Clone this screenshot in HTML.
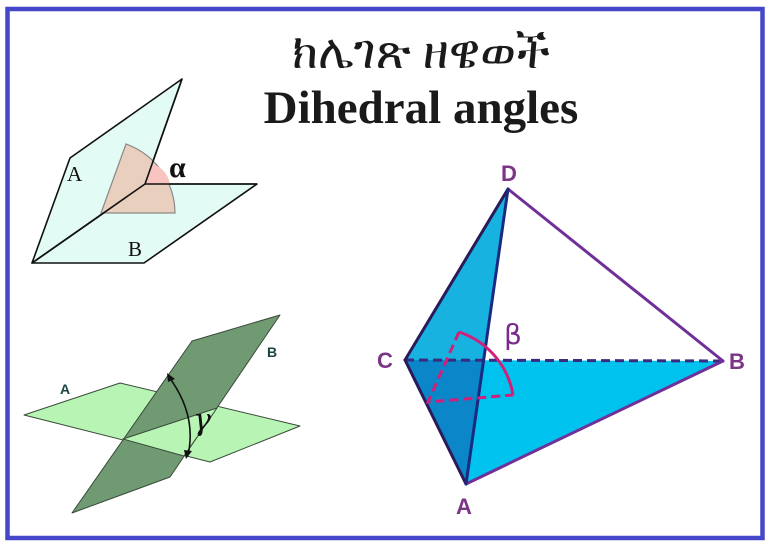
<!DOCTYPE html>
<html><head><meta charset="utf-8"><style>
html,body{margin:0;padding:0;background:#fff;}
svg{display:block;}
</style></head><body>
<svg width="773" height="550" viewBox="0 0 773 550" xmlns="http://www.w3.org/2000/svg">
<rect x="7.5" y="9" width="755" height="529" fill="#fff" stroke="#4347c8" stroke-width="4.5"/>
<text x="421" y="68" text-anchor="middle" font-family="'Liberation Serif','Noto Serif CJK SC',serif" font-size="48" fill="#1a1a1a">ክሌገጽ ዘዌወች</text>
<text x="421" y="123" text-anchor="middle" font-family="'Liberation Serif',serif" font-size="47" font-weight="bold" fill="#1a1a1a">Dihedral angles</text>

<!-- Diagram 1 -->
<g stroke="#111" stroke-width="1.6" stroke-linejoin="round">
<polygon points="32,263 145,184 257,184 144,263" fill="#e2fbf4"/>
<polygon points="32,263 70,158 182,79 145,184" fill="#e2fbf4"/>
</g>
<path d="M101,213 L126,144 A74,74 0 0 1 175,213 Z" fill="#e9cfbd" stroke="#888" stroke-width="1.2"/>
<path d="M145,184 L152,164 A25,25 0 0 1 170,184 Z" fill="#f8c4c0"/>
<g stroke="#111" stroke-width="1.6" fill="none">
<line x1="32" y1="263" x2="145" y2="184"/>
<line x1="145" y1="184" x2="182" y2="79"/>
<line x1="145" y1="184" x2="257" y2="184"/>
</g>
<text x="67" y="181" font-family="'Liberation Serif',serif" font-size="21" fill="#111">A</text>
<text x="128" y="256" font-family="'Liberation Serif',serif" font-size="21" fill="#111">B</text>
<text x="169" y="177" font-family="'Liberation Serif',serif" font-size="30" font-weight="bold" fill="#111">α</text>

<!-- Diagram 2 -->
<g stroke="#3a4a3a" stroke-width="1" stroke-linejoin="round">
<polygon points="24,415 120,383 300,426 210,462" fill="#b8f5b4"/>
<polygon points="192,341 280,315 170,477 72,513" fill="#6f9a72"/>
<polygon points="123,439 217,408 184,456" fill="#b8f5b4"/>
</g>
<path d="M169,377 Q197,415 188,455" fill="none" stroke="#111" stroke-width="1.6"/>
<polygon points="167,373 175,379 168,382" fill="#111"/>
<polygon points="186,459 184,450 192,451" fill="#111"/>
<text x="193" y="430" font-family="'DejaVu Serif',serif" font-style="italic" font-size="30" fill="#111">γ</text>
<text x="60" y="394" font-family="'Liberation Sans',sans-serif" font-weight="bold" font-size="14" fill="#1a4545">A</text>
<text x="267" y="357" font-family="'Liberation Sans',sans-serif" font-weight="bold" font-size="14" fill="#1a4545">B</text>

<!-- Tetrahedron -->
<polygon points="508,189 405,360 466,484" fill="#17b2e0"/>
<polygon points="405,360 723,361 466,484" fill="#00c2ee"/>
<polygon points="405,360 484,360 466,484" fill="#0b86c8"/>
<line x1="405" y1="360" x2="723" y2="361" stroke="#3a2a80" stroke-width="3" stroke-dasharray="9,5"/>
<g stroke-width="3" stroke-linecap="round" fill="none">
<line x1="508" y1="189" x2="723" y2="361" stroke="#70309a"/>
<line x1="466" y1="484" x2="723" y2="361" stroke="#70309a"/>
<line x1="508" y1="189" x2="405" y2="360" stroke="#2a1a5a"/>
<line x1="405" y1="360" x2="466" y2="484" stroke="#2a1a5a"/>
<line x1="508" y1="189" x2="466" y2="484" stroke="#1a2a80"/>
</g>
<g stroke="#d0207a" stroke-width="3" fill="none">
<path d="M459,332 L428,402 L513,395" stroke-dasharray="9,5"/>
<path d="M459,332 A80,80 0 0 1 513,395"/>
</g>
<text x="504" y="344" font-family="'DejaVu Sans',sans-serif" font-size="28" fill="#7a2a8a">β</text>
<g font-family="'Liberation Sans',sans-serif" font-weight="bold" font-size="22" fill="#7a3585">
<text x="501" y="181">D</text>
<text x="377" y="368">C</text>
<text x="729" y="369">B</text>
<text x="456" y="514">A</text>
</g>
</svg>
</body></html>
